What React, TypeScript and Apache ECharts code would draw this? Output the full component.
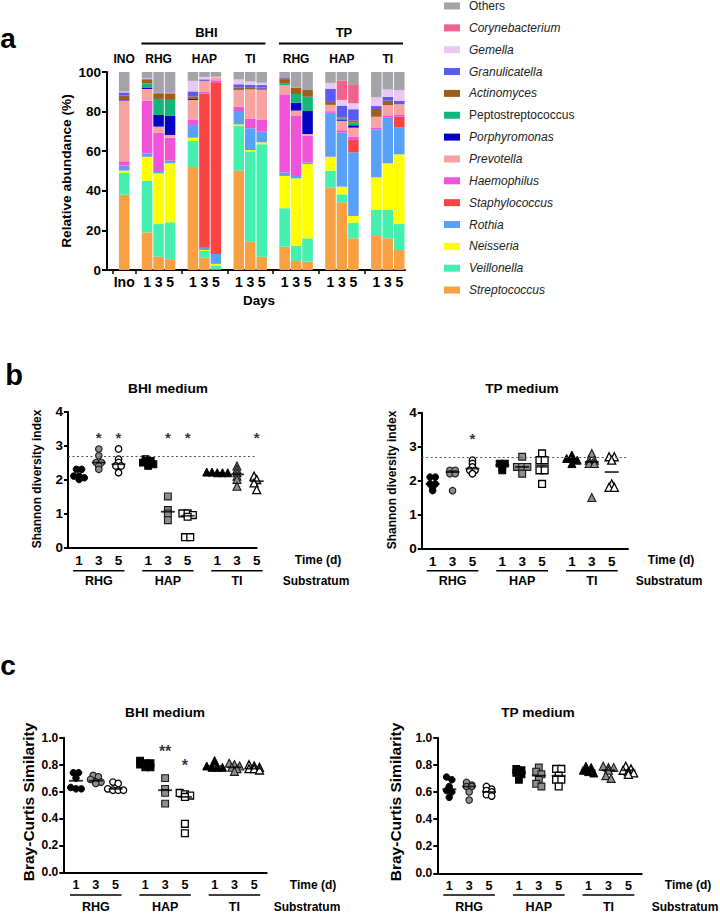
import React, { useEffect, useRef } from 'react';
import * as echarts from 'echarts';

const FONT = '"Liberation Sans", Arial, Helvetica, sans-serif';

// ---------- Panel a: relative abundance (%) ----------
// sample order: Ino, BHI RHG 1/3/5, BHI HAP 1/3/5, BHI TI 1/3/5, TP RHG 1/3/5, TP HAP 1/3/5, TP TI 1/3/5
const streptococcus = [38, 19, 6.7, 5.1, 52, 6.2, 0.3, 50.2, 14.3, 6.7, 11.8, 4.5, 4.2, 41.6, 34.2, 16, 17.2, 16, 10.1];
const veillonella = [11, 26, 16.5, 19, 13.2, 3.4, 2, 22.5, 45.5, 56.8, 19.4, 7.8, 11.8, 8.6, 4, 7.9, 13.1, 14.3, 13.1];
const neisseria = [1.2, 12.2, 25.6, 29.8, 1.6, 0.5, 0.8, 0.8, 0.8, 1, 16.3, 34, 37.5, 7, 3.9, 3.4, 16.5, 23.6, 35.2];
const rothia = [2.5, 1.7, 1.2, 1.3, 6.4, 1.2, 5, 6.8, 11, 5.4, 1.8, 1.2, 0.8, 22.2, 27.3, 32.1, 24.2, 23, 13.5];
const staphylococcus = [0, 0, 0, 0, 0, 77.9, 86.7, 0, 0, 0, 0, 0, 0, 0, 0, 6.3, 0, 0, 5.5];
const haemophilus = [2.2, 26.5, 19.4, 11.6, 2.6, 0.8, 1, 2.2, 4.7, 5.9, 39.4, 30.3, 13.4, 0.8, 1.2, 1.5, 1, 1.2, 1.2];
const prevotella = [30.7, 6, 3, 1.4, 10.1, 5.5, 1.3, 8.4, 14.9, 15.4, 4.7, 2.7, 1, 3.2, 4.7, 4.7, 5.4, 5.2, 5.1];
const porphyromonas = [0.6, 0.8, 5.9, 9.6, 0.5, 0, 0, 0.3, 0, 0.5, 0, 4, 11.6, 0, 0.4, 1.2, 0, 0, 0];
const peptostreptococcus = [0, 2, 8.1, 8.1, 0, 0, 0, 0, 0, 0, 1, 4.4, 7.2, 0, 0.8, 1.5, 0, 0, 0];
const actinomyces = [2, 2, 2.8, 3, 1.3, 0, 0, 1, 0.8, 0.5, 2, 3.2, 3.4, 1.5, 0.5, 1, 3.9, 2.2, 0];
const granulicatella = [1.5, 0.5, 0.3, 0.3, 2.5, 0.8, 0, 1.6, 1.5, 1.2, 0.5, 0, 0, 6.7, 6, 5.6, 1.5, 2, 1.8];
const gemella = [0.4, 0.3, 0, 0, 5.3, 1.2, 0.3, 2.5, 1.7, 1.2, 0, 0, 0, 2.9, 2.9, 3, 4.4, 3.7, 5.4];
const corynebacterium = [0, 0, 0, 0.5, 0, 0, 0.3, 0, 0, 0, 0, 0, 0, 0, 9.8, 9.2, 0, 0, 0];
const others = [9.9, 3, 10.5, 10.3, 4.5, 2.5, 2.3, 3.7, 4.8, 5.4, 3.1, 7.9, 9.1, 5.5, 4.3, 6.6, 12.8, 8.8, 9.1];

const genusStack = [
  { name: 'Streptococcus', color: '#f9a042', values: streptococcus },
  { name: 'Veillonella', color: '#45efb0', values: veillonella },
  { name: 'Neisseria', color: '#ffff00', values: neisseria },
  { name: 'Rothia', color: '#58a0f8', values: rothia },
  { name: 'Staphylococcus', color: '#f84444', values: staphylococcus },
  { name: 'Haemophilus', color: '#f052d8', values: haemophilus },
  { name: 'Prevotella', color: '#f9a2a2', values: prevotella },
  { name: 'Porphyromonas', color: '#0202c0', values: porphyromonas },
  { name: 'Peptostreptococcus', color: '#12b87a', values: peptostreptococcus },
  { name: 'Actinomyces', color: '#9a611c', values: actinomyces },
  { name: 'Granulicatella', color: '#5a5af2', values: granulicatella },
  { name: 'Gemella', color: '#eac8f4', values: gemella },
  { name: 'Corynebacterium', color: '#f2628c', values: corynebacterium },
  { name: 'Others', color: '#a3a3a8', values: others },
];
const uprightNames = ['Others', 'Peptostreptococcus'];

const media = ['BHI', 'TP'];
const substrates = ['RHG', 'HAP', 'TI'];
const days = ['1', '3', '5'];

// ---------- Panel b: Shannon diversity index ----------
// group order: RHG 1/3/5, HAP 1/3/5, TI 1/3/5
const shannonBHI = [
  [2.3, 2.3, 2.1, 2.1, 2.05, 2.0],
  [2.9, 2.7, 2.5, 2.5, 2.4, 2.3],
  [2.9, 2.6, 2.5, 2.4, 2.4, 2.2],
  [2.6, 2.55, 2.5, 2.5, 2.45, 2.4],
  [1.5, 1.1, 1.0, 0.8],
  [1.0, 1.0, 0.95, 0.9, 0.3, 0.3],
  [2.22, 2.22, 2.2, 2.2, 2.2],
  [2.4, 2.3, 2.2, 2.1, 2.0, 1.8],
  [2.1, 2.05, 2.0, 1.9, 1.85, 1.7],
];
const shannonBHICenter = [2.1, 2.5, 2.45, 2.5, 1.05, 0.93, 2.2, 2.15, 1.95];
const shannonBHIStars = ['', '*', '*', '', '*', '*', '', '', '*'];
const shannonTP = [
  [2.1, 2.1, 1.9, 1.9, 1.8, 1.7],
  [2.3, 2.3, 2.2, 2.2, 1.7],
  [2.6, 2.5, 2.4, 2.3, 2.3, 2.2],
  [2.5, 2.5, 2.4, 2.3],
  [2.7, 2.4, 2.4, 2.4, 2.2],
  [2.8, 2.6, 2.6, 2.3, 2.3, 1.9],
  [2.75, 2.65, 2.65, 2.6, 2.5],
  [2.8, 2.6, 2.6, 2.5, 2.5, 1.5],
  [2.7, 2.7, 2.6, 1.9, 1.8, 1.8],
];
const shannonTPCenter = [1.9, 2.25, 2.35, 2.45, 2.4, 2.45, 2.65, 2.55, 2.25];
const shannonTPStars = ['', '', '*', '', '', '', '', '', ''];
const shannonStarLevel = [3.25, 3.25, 3.25, 3.25, 3.25, 3.25, 3.25, 3.25, 3.25];
const shannonInoculum = 2.7;

// ---------- Panel c: Bray-Curtis similarity ----------
const brayBHI = [
  [0.74, 0.74, 0.7, 0.63, 0.62, 0.62],
  [0.72, 0.71, 0.69, 0.67, 0.67, 0.66],
  [0.67, 0.66, 0.62, 0.61, 0.61, 0.61],
  [0.83, 0.81, 0.81, 0.8, 0.78, 0.78],
  [0.7, 0.62, 0.59, 0.51],
  [0.59, 0.58, 0.57, 0.56, 0.36, 0.29],
  [0.83, 0.79, 0.78, 0.78, 0.78],
  [0.81, 0.8, 0.79, 0.78, 0.77, 0.75],
  [0.8, 0.79, 0.78, 0.77, 0.77, 0.76],
];
const brayBHICenter = [0.68, 0.68, 0.62, 0.8, 0.61, 0.56, 0.79, 0.78, 0.77];
const brayBHIStars = ['', '', '', '', '**', '*', '', '', ''];
const brayBHIStarLevel = [0, 0, 0, 0, 0.895, 0.795, 0, 0, 0];
const brayTP = [
  [0.71, 0.69, 0.64, 0.61, 0.6, 0.56],
  [0.67, 0.65, 0.64, 0.64, 0.6, 0.54],
  [0.64, 0.62, 0.61, 0.6, 0.58, 0.57],
  [0.77, 0.76, 0.74, 0.73, 0.69],
  [0.78, 0.75, 0.73, 0.69, 0.66, 0.64],
  [0.77, 0.77, 0.72, 0.69, 0.69, 0.64],
  [0.79, 0.78, 0.76, 0.75, 0.74],
  [0.79, 0.78, 0.78, 0.76, 0.72, 0.7],
  [0.79, 0.77, 0.76, 0.75, 0.74, 0.73],
];
const brayTPCenter = [0.62, 0.64, 0.6, 0.74, 0.72, 0.72, 0.76, 0.76, 0.76];
const brayTPStars = ['', '', '', '', '', '', '', '', ''];
const brayTPStarLevel = [0, 0, 0, 0, 0, 0, 0, 0, 0];

// ---------- layout ----------
const grids = [
  { left: 107, top: 72, width: 298, height: 198 },
  { left: 68, top: 411.7, width: 188.7, height: 135.6 },
  { left: 421.7, top: 412.7, width: 206.3, height: 135.6 },
  { left: 63.3, top: 737.7, width: 203.4, height: 134.6 },
  { left: 437.3, top: 737.7, width: 204.4, height: 135.6 },
];
const xRanges = [null, [-0.56, 9], [-0.55, 9.82], [-0.64, 9.63], [-0.6, 9.67]];
const groupPos = substrates.flatMap((_, si) => days.map((__, di) => si * 3.5 + di));
const shapes = ['circle', 'rect', 'triangle'];
const shapeSize = [6.5, 6.8, 8];
const dayStyle = [
  { color: '#000000', borderColor: '#000000', borderWidth: 1 },
  { color: '#8e8e8e', borderColor: '#1a1a1a', borderWidth: 1.1 },
  { color: '#ffffff', borderColor: '#000000', borderWidth: 1.3 },
];

const scatterPanels = [
  { k: 1, vals: shannonBHI, center: shannonBHICenter, stars: shannonBHIStars, starY: shannonStarLevel, yMax: 4, yInt: 1, ref: shannonInoculum, starSize: 15 },
  { k: 2, vals: shannonTP, center: shannonTPCenter, stars: shannonTPStars, starY: shannonStarLevel, yMax: 4, yInt: 1, ref: shannonInoculum, starSize: 15 },
  { k: 3, vals: brayBHI, center: brayBHICenter, stars: brayBHIStars, starY: brayBHIStarLevel, yMax: 1, yInt: 0.2, ref: null, starSize: 16 },
  { k: 4, vals: brayTP, center: brayTPCenter, stars: brayTPStars, starY: brayTPStarLevel, yMax: 1, yInt: 0.2, ref: null, starSize: 16 },
];

// horizontal spreading of overlapping points (scatter dot plot layout)
function swarm(values: number[], cx: number, sx: number, sy: number, size: number) {
  const sorted = [...values].sort((a, b) => b - a);
  const rows: number[][] = [];
  sorted.forEach((v) => {
    const last = rows[rows.length - 1];
    if (last && Math.abs(last[0] - v) * sy < size * 0.45) last.push(v);
    else rows.push([v]);
  });
  const out: number[][] = [];
  rows.forEach((r) => r.forEach((v, i) => out.push([cx + ((i - (r.length - 1) / 2) * size * 0.75) / sx, v])));
  return out;
}

// category slots for panel a
const slotLabels: string[] = ['', 'Ino'];
const sampleSlot: number[] = [1];
media.forEach(() =>
  substrates.forEach(() => {
    slotLabels.push('');
    days.forEach((d) => {
      sampleSlot.push(slotLabels.length);
      slotLabels.push(d);
    });
  })
);

function buildOption(): any {
  const series: any[] = [];
  genusStack.forEach((g) => {
    const data: any[] = slotLabels.map(() => '-');
    g.values.forEach((v, i) => (data[sampleSlot[i]] = v));
    series.push({
      type: 'bar', name: g.name, stack: 'abund', xAxisIndex: 0, yAxisIndex: 0,
      barCategoryGap: '8%', itemStyle: { color: g.color }, data,
    });
  });

  scatterPanels.forEach((p) => {
    const gr = grids[p.k];
    const xr = xRanges[p.k] as number[];
    const sx = gr.width / (xr[1] - xr[0]);
    const sy = gr.height / p.yMax;
    p.vals.forEach((vals, gi) => {
      const si = Math.floor(gi / 3);
      const di = gi % 3;
      series.push({
        type: 'scatter', xAxisIndex: p.k, yAxisIndex: p.k, symbol: shapes[si], symbolSize: shapeSize[si],
        itemStyle: { ...dayStyle[di], opacity: 1 }, z: 3,
        data: swarm(vals, groupPos[gi], sx, sy, 7),
      });
    });
    const med: any = {
      type: 'scatter', xAxisIndex: p.k, yAxisIndex: p.k, symbol: 'rect', symbolSize: [14, 1.8],
      itemStyle: { color: '#000' }, z: 4,
      data: p.center.map((v, gi) => [groupPos[gi], v]),
    };
    if (p.ref !== null) {
      med.markLine = {
        silent: true, symbol: ['none', 'none'], label: { show: false },
        lineStyle: { type: [2, 2.5], color: '#555', width: 1.2 },
        data: [{ yAxis: p.ref }],
      };
    }
    series.push(med);
    const starData = p.stars
      .map((s, gi) => (s ? { name: s, value: [groupPos[gi], p.starY[gi]] } : null))
      .filter((d) => d);
    if (starData.length) {
      series.push({
        type: 'scatter', xAxisIndex: p.k, yAxisIndex: p.k, symbol: 'circle', symbolSize: 1,
        itemStyle: { color: 'rgba(0,0,0,0)' }, z: 5, data: starData,
        label: { show: true, position: 'inside', formatter: '{b}', fontSize: p.starSize, fontWeight: 'bold', color: '#000', fontFamily: FONT },
      });
    }
  });

  const xAxis: any[] = [
    {
      gridIndex: 0, type: 'category', data: slotLabels, boundaryGap: true,
      axisLine: { lineStyle: { color: '#000', width: 2 } },
      axisTick: { show: true, alignWithLabel: true, length: 4, lineStyle: { color: '#000', width: 1.5 }, interval: (i: number) => slotLabels[i] === '' },
      axisLabel: { interval: 0, fontSize: 14, fontWeight: 'bold', color: '#000', margin: 5, fontFamily: FONT },
    },
  ];
  const yAxis: any[] = [
    {
      gridIndex: 0, type: 'value', min: 0, max: 100, interval: 20,
      axisLine: { show: true, onZero: false, lineStyle: { color: '#000', width: 2 } },
      axisTick: { show: true, length: 5, lineStyle: { color: '#000', width: 2 } },
      axisLabel: { fontSize: 13.5, fontWeight: 'bold', color: '#000', margin: 6, fontFamily: FONT },
      splitLine: { show: false },
    },
  ];
  scatterPanels.forEach((p) => {
    const xr = xRanges[p.k] as number[];
    const isB = p.yMax === 4;
    xAxis.push({
      gridIndex: p.k, type: 'value', min: xr[0], max: xr[1],
      axisLine: { show: true, onZero: false, lineStyle: { color: '#000', width: 2 } },
      axisTick: { show: false }, splitLine: { show: false },
      axisLabel: {
        customValues: groupPos, fontSize: isB ? 13.5 : 12.5, fontWeight: 'bold', color: '#000', margin: 6, fontFamily: FONT,
        formatter: (v: number) => {
          const idx = groupPos.findIndex((q) => Math.abs(q - v) < 1e-6);
          return idx >= 0 ? days[idx % 3] : '';
        },
      },
    });
    yAxis.push({
      gridIndex: p.k, type: 'value', min: 0, max: p.yMax, interval: p.yInt,
      axisLine: { show: true, onZero: false, lineStyle: { color: '#000', width: 2 } },
      axisTick: { show: true, length: 4, lineStyle: { color: '#000', width: 2 } },
      splitLine: { show: false },
      axisLabel: {
        fontSize: isB ? 13.5 : 12, fontWeight: 'bold', color: '#000', margin: 5, fontFamily: FONT,
        formatter: (v: number) => (isB ? String(v) : v.toFixed(1)),
      },
    });
  });

  return {
    animation: false,
    backgroundColor: '#ffffff',
    textStyle: { fontFamily: FONT },
    grid: grids.map((g) => ({ ...g, containLabel: false })),
    xAxis,
    yAxis,
    legend: {
      orient: 'vertical', left: 444, top: 0, padding: 0, itemGap: 9.85,
      itemWidth: 16, itemHeight: 7, icon: 'rect', selectedMode: false,
      data: [...genusStack].reverse().map((g) => g.name),
      formatter: (name: string) => (uprightNames.includes(name) ? `{n|${name}}` : `{i|${name}}`),
      textStyle: {
        rich: {
          n: { fontSize: 12, color: '#222', fontFamily: FONT, lineHeight: 14, padding: [0, 0, 0, 4] },
          i: { fontSize: 12, color: '#222', fontFamily: FONT, fontStyle: 'italic', lineHeight: 14, padding: [0, 0, 0, 4] },
        },
      },
    },
    series,
  };
}

function buildGraphics(chart: any) {
  const g: any[] = [];
  const text = (t: string, x: number, y: number, size: number, rot = 0, weight = 'bold') =>
    g.push({
      type: 'text', x, y, rotation: rot, z: 10,
      style: { text: t, fill: '#000', fontSize: size, fontWeight: weight, fontFamily: FONT, align: 'center', verticalAlign: 'middle' },
    });
  const line = (x1: number, x2: number, y: number, w = 2) =>
    g.push({ type: 'line', z: 10, shape: { x1, y1: y, x2, y2: y }, style: { stroke: '#000', lineWidth: w } });
  const px = (axis: number, v: number) => chart.convertToPixel({ xAxisIndex: axis }, v) as number;

  // panel letters
  text('a', 8, 38.5, 28);
  text('b', 14, 375, 29);
  text('c', 8, 665.5, 28);

  // ---- panel a ----
  const slotW = px(0, 1) - px(0, 0);
  text('Relative abundance (%)', 66, 171, 13.7, Math.PI / 2);
  text('Days', 259, 300, 13.4);
  text('INO', px(0, sampleSlot[0]), 59, 12);
  media.forEach((m, mi) => {
    const first = sampleSlot[1 + mi * 9];
    const last = sampleSlot[9 + mi * 9];
    const x1 = px(0, first) - slotW / 2;
    const x2 = px(0, last) + slotW / 2 - 2;
    line(x1, x2, 43.5, 2);
    text(m, (x1 + x2) / 2 + 3, 32.5, 13);
    substrates.forEach((s, si) => {
      text(s, px(0, sampleSlot[2 + mi * 9 + si * 3]), 59, 12);
    });
  });

  // ---- panels b, c ----
  const panelText = [
    { k: 1, title: 'BHI medium', tx: 168, ty: 388, yName: 'Shannon diversity index', nx: 37, ny: 479, nSize: 12, timeX: 318, timeY: 560, subX: 316, subY: 580.7, lineY: 570.7 },
    { k: 2, title: 'TP medium', tx: 522, ty: 388, yName: 'Shannon diversity index', nx: 392, ny: 480, nSize: 12, timeX: 671, timeY: 560, subX: 669, subY: 580.7, lineY: 570.7 },
    { k: 3, title: 'BHI medium', tx: 165, ty: 712.7, yName: 'Bray-Curtis Similarity', nx: 28, ny: 802, nSize: 15.5, timeX: 313, timeY: 885, subX: 307, subY: 906.7, lineY: 895 },
    { k: 4, title: 'TP medium', tx: 538, ty: 712.7, yName: 'Bray-Curtis Similarity', nx: 395, ny: 802, nSize: 15.5, timeX: 688, timeY: 885, subX: 685, subY: 907, lineY: 895 },
  ];
  panelText.forEach((p) => {
    text(p.title, p.tx, p.ty, 13.7);
    text(p.yName, p.nx, p.ny, p.nSize, Math.PI / 2);
    text('Time (d)', p.timeX, p.timeY, 12);
    text('Substratum', p.subX, p.subY, 12);
    const sw = px(p.k, 1) - px(p.k, 0);
    substrates.forEach((s, si) => {
      const a = px(p.k, groupPos[si * 3]);
      const b = px(p.k, groupPos[si * 3 + 2]);
      line(a - 0.3 * sw, b + 0.3 * sw, p.lineY, 1.6);
      text(s, (a + b) / 2, p.subY, 12.5);
    });
  });
  return g;
}

export default function App() {
  const ref = useRef<HTMLDivElement>(null);
  useEffect(() => {
    document.body.style.margin = '0';
    const chart = echarts.init(ref.current as HTMLDivElement, null, { renderer: 'svg' });
    chart.setOption(buildOption());
    chart.setOption({ graphic: buildGraphics(chart) });
    return () => chart.dispose();
  }, []);
  return <div ref={ref} style={{ width: 720, height: 913 }} />;
}
